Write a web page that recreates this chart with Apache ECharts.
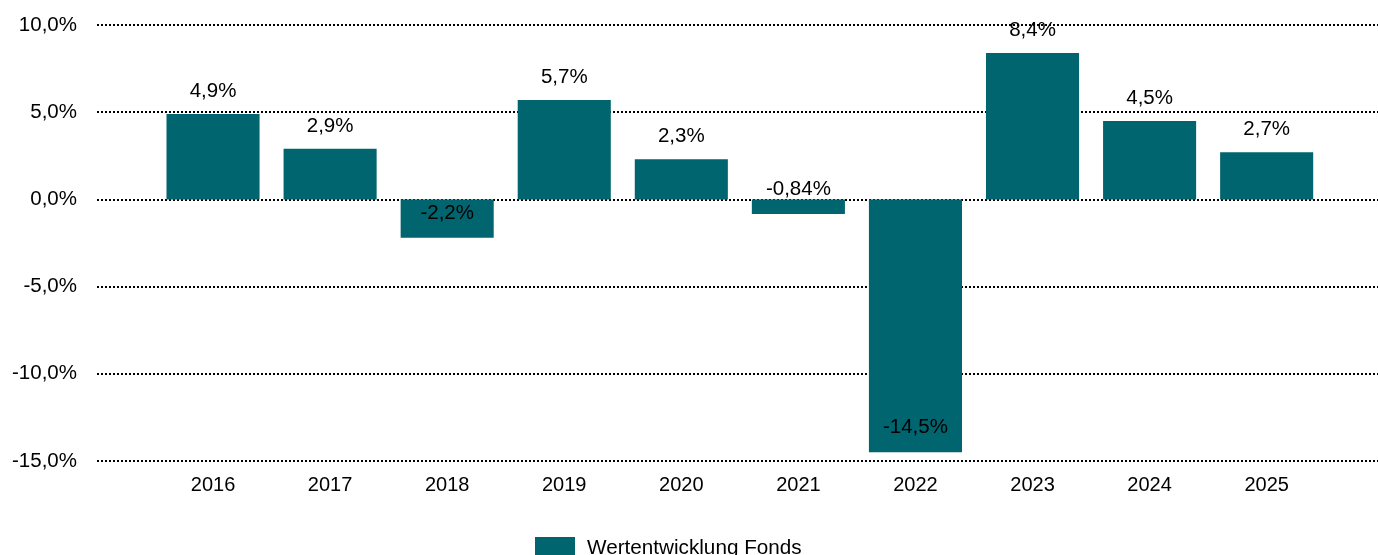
<!DOCTYPE html>
<html>
<head>
<meta charset="utf-8">
<style>
html,body{margin:0;padding:0;background:#fff;}
#chart{width:1378px;height:555px;}
</style>
<script src="https://cdn.jsdelivr.net/npm/echarts@6/dist/echarts.min.js"></script>
</head>
<body>
<div id="chart"></div>
<script>
var categories = ['2016','2017','2018','2019','2020','2021','2022','2023','2024','2025'];
var seriesName = 'Wertentwicklung Fonds';
var values = [4.9, 2.9, -2.2, 5.7, 2.3, -0.84, -14.5, 8.4, 4.5, 2.7];
var yMin = -15, yMax = 10, yStep = 5;

var FONT = '"Liberation Sans", Arial, sans-serif';
var BAR = '#00656E';

function fmt(v){ return String(v).replace('.', ',') + '%'; }

var chart = echarts.init(document.getElementById('chart'), null, {renderer:'canvas'});
chart.setOption({
  animation: false,
  backgroundColor: '#ffffff',
  textStyle: {fontFamily: FONT, color: '#000'},
  legend: {
    data: [seriesName],
    left: 535, top: 537,
    icon: 'rect', itemWidth: 40, itemHeight: 22,
    padding: 0,
    textStyle: {fontFamily: FONT, fontSize: 20.7, color: '#000', padding: [0,0,0,7]}
  },
  grid: [
    {left: 97, right: 0, top: 25, bottom: 94, containLabel: false},
    {left: 154.5, right: 52.8, top: 25, bottom: 94, containLabel: false}
  ],
  xAxis: [
    {gridIndex: 0, type: 'value', min: 0, max: 1, show: false},
    {gridIndex: 1, type: 'category', data: categories,
     axisLine: {show: false}, axisTick: {show: false},
     axisLabel: {fontFamily: FONT, fontSize: 20, color: '#000', margin: 14}}
  ],
  yAxis: [
    {gridIndex: 0, type: 'value', min: yMin, max: yMax, interval: yStep,
     axisLine: {show: false}, axisTick: {show: false},
     axisLabel: {fontFamily: FONT, fontSize: 20.5, color: '#000', margin: 20,
       formatter: function(v){ return v.toFixed(1).replace('.', ',') + '%'; }},
     splitLine: {show: true, lineStyle: {color: '#000', width: 2, type: [2,2]}}},
    {gridIndex: 1, type: 'value', min: yMin, max: yMax, interval: yStep, show: false,
     splitLine: {show: false}}
  ],
  series: [{
    name: seriesName,
    type: 'bar',
    xAxisIndex: 1, yAxisIndex: 1,
    barWidth: '79.5%',
    itemStyle: {color: BAR},
    z: 3,
    data: values.map(function(v){
      return {
        value: v,
        label: {
          show: true,
          position: v >= 0 ? 'top' : 'insideBottom',
          distance: v >= 0 ? 12 : 14,
          fontFamily: FONT, fontSize: 20.5, color: '#000',
          formatter: function(p){ return fmt(p.value); }
        }
      };
    })
  }]
});
</script>
</body>
</html>
